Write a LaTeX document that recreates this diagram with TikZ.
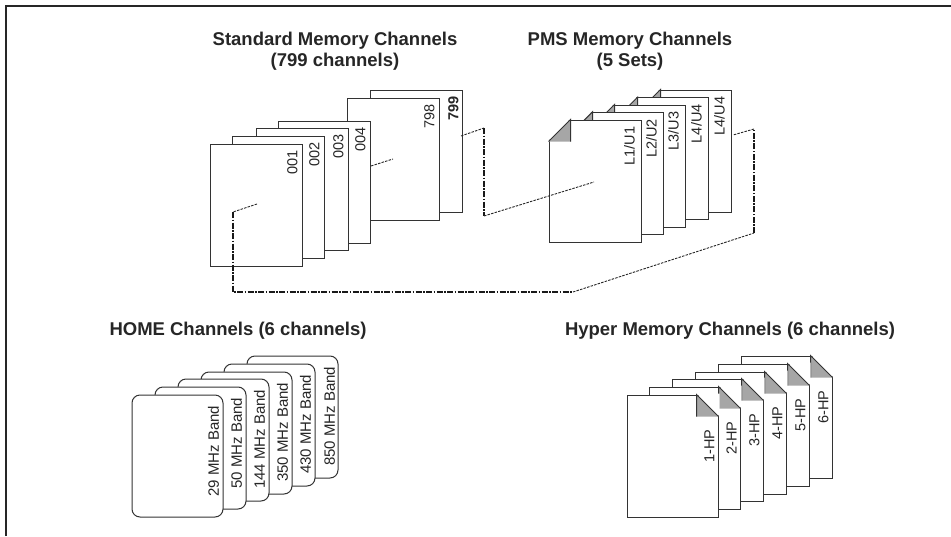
\documentclass[tikz,border=0pt]{standalone}
\usepackage{fontspec}
\setmainfont{Liberation Sans}
\usetikzlibrary{calc}

\begin{document}
\begin{tikzpicture}[x=1pt,y=-1pt]
    \tikzset{card/.style = {shape=rectangle, draw=black!80, fill=white, line width=1pt, minimum width=92pt, minimum height=122pt, inner sep=0pt}}
    \tikzset{band/.style = {card, rounded corners=8pt, minimum width=91pt}}
    \tikzset{num/.style = {rotate=90, anchor=east, inner sep=0pt, text=black!85, font=\fontsize{14.5}{16}\selectfont}}
    \tikzset{bandnum/.style = {num, font=\fontsize{15}{17}\selectfont}}
    \tikzset{heading/.style = {anchor=base, inner sep=0pt, text=black!85, font=\fontsize{18.5}{21}\selectfont\bfseries}}
    \tikzset{ear/.style = {draw=black!80, fill=black!35, line width=1pt}}
    \tikzset{link/.style = {draw=black!85, line width=0.9pt, dash pattern=on 2.5pt off 1.2pt}}
    \tikzset{run/.style = {draw=black!90, line width=1.5pt, dash pattern=on 6pt off 1.5pt on 1.5pt off 1.5pt}}

    \useasboundingbox (0,0) rectangle (951,536);
    \draw[line width=2pt, black!85] (6,536) -- (6,6) -- (951,6);

    % headings
    \node[heading] (tstd) at (335,45) {Standard Memory Channels};
    \node[heading] (tstdn) at (335,66) {(799 channels)};
    \node[heading] (tpms) at (630,45) {PMS Memory Channels};
    \node[heading] (tpmsn) at (630,66) {(5 Sets)};
    \node[heading] (thome) at (238,335) {HOME Channels (6 channels)};
    \node[heading] (thyper) at (730,335) {Hyper Memory Channels (6 channels)};

    % standard memory channels
    \node[card] (s799) at (416,151) {};
    \node[num] at ([xshift=-9pt,yshift=-7pt]s799.north east) {\bfseries 799};
    \node[card] (s798) at (393,159) {};
    \node[num] at ([xshift=-10pt,yshift=-7pt]s798.north east) {798};
    \node[card] (s004) at (324,182) {};
    \node[num] at ([xshift=-10pt,yshift=-7pt]s004.north east) {004};
    \node[card] (s003) at (302,189) {};
    \node[num] at ([xshift=-10pt,yshift=-7pt]s003.north east) {003};
    \node[card] (s002) at (278,197) {};
    \node[num] at ([xshift=-10pt,yshift=-7pt]s002.north east) {002};
    \node[card] (s001) at (256,205) {};
    \node[num] at ([xshift=-10pt,yshift=-7pt]s001.north east) {001};

    % PMS memory channels
    \node[card] (p5) at (685,151) {};
    \node[num] at ([xshift=-12pt,yshift=-7pt]p5.north east) {L4/U4};
    \fill[white] ([shift={(-1pt,1pt)}]p5.north west) -- ++(23,0) -- ++(-23,23) -- cycle;
    \filldraw[ear] ([yshift=-22pt]p5.north west) -- ([xshift=22pt]p5.north west) -- ([shift={(22pt,-22pt)}]p5.north west);
    \node[card] (p4) at (662,158.7) {};
    \node[num] at ([xshift=-12pt,yshift=-7pt]p4.north east) {L4/U4};
    \fill[white] ([shift={(-1pt,1pt)}]p4.north west) -- ++(23,0) -- ++(-23,23) -- cycle;
    \filldraw[ear] ([yshift=-22pt]p4.north west) -- ([xshift=22pt]p4.north west) -- ([shift={(22pt,-22pt)}]p4.north west);
    \node[card] (p3) at (639,166) {};
    \node[num] at ([xshift=-12pt,yshift=-7pt]p3.north east) {L3/U3};
    \fill[white] ([shift={(-1pt,1pt)}]p3.north west) -- ++(23,0) -- ++(-23,23) -- cycle;
    \filldraw[ear] ([yshift=-22pt]p3.north west) -- ([xshift=22pt]p3.north west) -- ([shift={(22pt,-22pt)}]p3.north west);
    \node[card] (p2) at (617,173.3) {};
    \node[num] at ([xshift=-12pt,yshift=-7pt]p2.north east) {L2/U2};
    \fill[white] ([shift={(-1pt,1pt)}]p2.north west) -- ++(23,0) -- ++(-23,23) -- cycle;
    \filldraw[ear] ([yshift=-22pt]p2.north west) -- ([xshift=22pt]p2.north west) -- ([shift={(22pt,-22pt)}]p2.north west);
    \node[card] (p1) at (595,181) {};
    \node[num] at ([xshift=-12pt,yshift=-7pt]p1.north east) {L1/U1};
    \fill[white] ([shift={(-1pt,1pt)}]p1.north west) -- ++(23,0) -- ++(-23,23) -- cycle;
    \filldraw[ear] ([yshift=-22pt]p1.north west) -- ([xshift=22pt]p1.north west) -- ([shift={(22pt,-22pt)}]p1.north west);

    % HOME channels
    \node[band] (h850) at (292.5,417) {};
    \node[bandnum] at ([xshift=-9pt,yshift=-11pt]h850.north east) {850 MHz Band};
    \node[band] (h430) at (269.5,425) {};
    \node[bandnum] at ([xshift=-10pt,yshift=-11pt]h430.north east) {430 MHz Band};
    \node[band] (h350) at (246.5,433) {};
    \node[bandnum] at ([xshift=-10pt,yshift=-11pt]h350.north east) {350 MHz Band};
    \node[band] (h144) at (223.5,440) {};
    \node[bandnum] at ([xshift=-10pt,yshift=-11pt]h144.north east) {144 MHz Band};
    \node[band] (h50) at (200.5,448) {};
    \node[bandnum] at ([xshift=-10pt,yshift=-11pt]h50.north east) {50 MHz Band};
    \node[band] (h29) at (177.5,456) {};
    \node[bandnum] at ([xshift=-10pt,yshift=-11pt]h29.north east) {29 MHz Band};

    % hyper memory channels
    \node[card, minimum width=91pt] (hp6) at (786.5,417) {};
    \node[num] at ([xshift=-9pt,yshift=-35pt]hp6.north east) {6-HP};
    \fill[white] ([shift={(1pt,1pt)}]hp6.north east) -- ++(-23,0) -- ++(23,23) -- cycle;
    \filldraw[ear] ([yshift=-22pt]hp6.north east) -- ([xshift=-22pt]hp6.north east) -- ([shift={(-22pt,-22pt)}]hp6.north east);
    \node[card, minimum width=91pt] (hp5) at (763.5,425) {};
    \node[num] at ([xshift=-9pt,yshift=-35pt]hp5.north east) {5-HP};
    \fill[white] ([shift={(1pt,1pt)}]hp5.north east) -- ++(-23,0) -- ++(23,23) -- cycle;
    \filldraw[ear] ([yshift=-22pt]hp5.north east) -- ([xshift=-22pt]hp5.north east) -- ([shift={(-22pt,-22pt)}]hp5.north east);
    \node[card, minimum width=91pt] (hp4) at (740.5,433) {};
    \node[num] at ([xshift=-9pt,yshift=-35pt]hp4.north east) {4-HP};
    \fill[white] ([shift={(1pt,1pt)}]hp4.north east) -- ++(-23,0) -- ++(23,23) -- cycle;
    \filldraw[ear] ([yshift=-22pt]hp4.north east) -- ([xshift=-22pt]hp4.north east) -- ([shift={(-22pt,-22pt)}]hp4.north east);
    \node[card, minimum width=91pt] (hp3) at (717.5,440) {};
    \node[num] at ([xshift=-9pt,yshift=-35pt]hp3.north east) {3-HP};
    \fill[white] ([shift={(1pt,1pt)}]hp3.north east) -- ++(-23,0) -- ++(23,23) -- cycle;
    \filldraw[ear] ([yshift=-22pt]hp3.north east) -- ([xshift=-22pt]hp3.north east) -- ([shift={(-22pt,-22pt)}]hp3.north east);
    \node[card, minimum width=91pt] (hp2) at (694.5,448) {};
    \node[num] at ([xshift=-9pt,yshift=-35pt]hp2.north east) {2-HP};
    \fill[white] ([shift={(1pt,1pt)}]hp2.north east) -- ++(-23,0) -- ++(23,23) -- cycle;
    \filldraw[ear] ([yshift=-22pt]hp2.north east) -- ([xshift=-22pt]hp2.north east) -- ([shift={(-22pt,-22pt)}]hp2.north east);
    \node[card, minimum width=91pt] (hp1) at (672.5,456) {};
    \node[num] at ([xshift=-9pt,yshift=-35pt]hp1.north east) {1-HP};
    \fill[white] ([shift={(1pt,1pt)}]hp1.north east) -- ++(-23,0) -- ++(23,23) -- cycle;
    \filldraw[ear] ([yshift=-22pt]hp1.north east) -- ([xshift=-22pt]hp1.north east) -- ([shift={(-22pt,-22pt)}]hp1.north east);

    % connectors
    \coordinate (a0) at (257,204);
    \coordinate (a1) at (233,212);
    \coordinate (a2) at (233,292);
    \coordinate (a3) at (573,292);
    \coordinate (a4) at (754,233);
    \coordinate (a5) at (754,129);
    \coordinate (a6) at (733,135);
    \draw[link] (a0) -- (a1);
    \draw[run] (a1) -- (a2) -- (a3);
    \draw[link] (a3) -- (a4);
    \draw[run] (a4) -- (a5);
    \draw[link] (a5) -- (a6);

    \coordinate (b0) at (371,166);
    \coordinate (b1) at (393,159);
    \coordinate (b2) at (461,136);
    \coordinate (b3) at (484,128);
    \coordinate (b4) at (484,216);
    \coordinate (b5) at (594,182);
    \draw[link] (b0) -- (b1);
    \draw[link] (b2) -- (b3);
    \draw[run] (b3) -- (b4);
    \draw[link] (b4) -- (b5);
\end{tikzpicture}
\end{document}
